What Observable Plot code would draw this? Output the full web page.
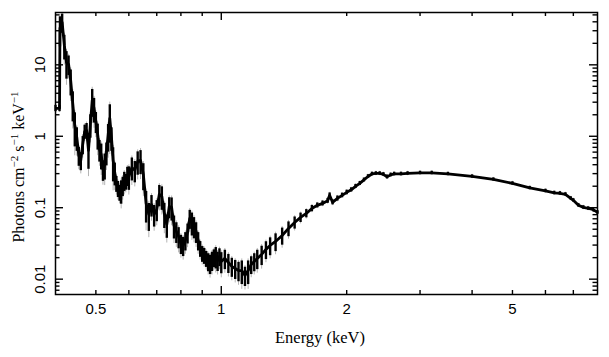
<!DOCTYPE html>
<html><head><meta charset="utf-8">
<script src="https://cdn.jsdelivr.net/npm/d3@7"></script>
<script src="https://cdn.jsdelivr.net/npm/@observablehq/plot@0.6"></script>
<style>body{margin:0;background:#fff} svg{display:block}</style>
</head><body><div id="chart"></div>
<script>
// Energy bins (keV)
const energy = [
  0.400,0.409,0.410,0.415,0.420,0.425,0.430,0.435,0.440,0.445,
  0.450,0.455,0.460,0.465,0.470,0.475,0.480,0.485,0.490,0.495,
  0.500,0.505,0.510,0.515,0.520,0.525,0.530,0.535,0.540,0.545,
  0.550,0.555,0.560,0.565,0.570,0.575,0.580,0.585,0.590,0.595,
  0.600,0.61,0.62,0.63,0.64,0.65,0.66,0.67,0.68,0.69,
  0.70,0.71,0.72,0.73,0.74,0.75,0.76,0.77,0.78,0.79,
  0.80,0.81,0.82,0.83,0.84,0.85,0.86,0.87,0.88,0.89,
  0.90,0.91,0.92,0.93,0.94,0.95,0.96,0.97,0.98,0.99,
  1.00,1.02,1.04,1.06,1.08,1.10,1.12,1.14,1.16,1.18,
  1.20,1.22,1.25,1.28,1.31,1.35,1.40,1.45,1.50,1.55,
  1.60,1.65,1.70,1.75,1.80,1.82,1.85,1.90,1.95,2.00,
  2.05,2.10,2.15,2.20,2.25,2.30,2.35,2.40,2.45,2.50,
  2.55,2.60,2.70,2.80,3.00,3.20,3.50,4.00,4.50,5.00,
  5.50,6.00,6.30,6.50,6.70,6.90,7.00,7.20,7.40,7.60,
  7.80,8.00
];
// Photons cm^-2 s^-1 keV^-1
const flux = [
  2.46,2.46,32.4,39.4,18.8,10.8,10.2,6.07,2.89,1.42,
  0.965,0.540,0.460,0.770,1.17,1.21,0.635,1.47,3.18,2.46,
  1.62,1.06,0.655,0.558,0.344,0.404,0.595,1.03,1.78,0.965,
  0.460,0.312,0.219,0.186,0.164,0.175,0.205,0.241,0.234,0.283,
  0.274,0.367,0.333,0.445,0.460,0.293,0.115,0.0806,0.111,0.0806,
  0.0947,0.154,0.144,0.0832,0.0583,0.104,0.101,0.0565,0.0466,0.0396,
  0.0316,0.0296,0.0348,0.0451,0.0708,0.0622,0.0547,0.0466,0.0348,0.0269,
  0.0229,0.0215,0.0195,0.0177,0.0166,0.0183,0.0201,0.0208,0.0183,0.0208,
  0.0177,0.0195,0.0171,0.0151,0.0141,0.0132,0.0132,0.0113,0.0132,0.0161,
  0.0177,0.0195,0.0222,0.0261,0.0296,0.0337,0.0409,0.0513,0.0622,0.0731,
  0.0832,0.0977,0.108,0.115,0.125,0.149,0.119,0.135,0.149,0.164,
  0.178,0.199,0.219,0.245,0.274,0.297,0.302,0.302,0.293,0.270,
  0.288,0.297,0.297,0.302,0.307,0.307,0.297,0.274,0.249,0.219,
  0.189,0.172,0.161,0.159,0.154,0.135,0.127,0.108,0.101,0.0977,
  0.0947,0.0859
];
// 1-sigma errors
const fluxErr = [
  0.25,0.25,14.6,11.8,7.1,4.5,3.1,2.4,1.3,0.71,
  0.35,0.16,0.13,0.22,0.26,0.30,0.29,0.53,1.34,0.93,
  0.53,0.42,0.22,0.22,0.11,0.16,0.21,0.43,0.98,0.35,
  0.23,0.11,0.055,0.047,0.041,0.063,0.062,0.072,0.058,0.085,
  0.099,0.13,0.11,0.16,0.17,0.12,0.054,0.034,0.037,0.027,
  0.031,0.051,0.052,0.032,0.021,0.034,0.036,0.020,0.015,0.013,
  0.0095,0.0089,0.010,0.014,0.021,0.022,0.018,0.015,0.010,0.0067,
  0.0057,0.0054,0.0049,0.0050,0.0050,0.0055,0.0056,0.0069,0.0055,0.0058,
  0.0058,0.0059,0.0051,0.0045,0.0042,0.0040,0.0048,0.0034,0.0048,0.0045,
  0.0050,0.0059,0.0067,0.0073,0.0083,0.0094,0.011,0.012,0.012,0.011,
  0.011,0.010,0.0086,0.0092,0.010,0.012,0.0095,0.011,0.011,0.012,
  0.012,0.013,0.014,0.015,0.016,0.017,0.017,0.017,0.017,0.017,
  0.017,0.017,0.017,0.017,0.017,0.017,0.016,0.015,0.013,0.012,
  0.010,0.0095,0.009,0.009,0.0085,0.0075,0.007,0.006,0.0056,0.0054,
  0.0052,0.0048
];

const xTickLabels = [0.5, 1, 2, 5];
const xMajorTicks = [1];
const xMinorTicks = [0.5, 0.6, 0.7, 0.8, 0.9, 2, 3, 4, 5, 6, 7];
const yTickLabels = [0.01, 0.1, 1, 10];
const yMajorTicks = [0.01, 0.1, 1, 10];
const yMinorTicks = [0.007, 0.008, 0.009,
  0.02, 0.03, 0.04, 0.05, 0.06, 0.07, 0.08, 0.09,
  0.2, 0.3, 0.4, 0.5, 0.6, 0.7, 0.8, 0.9,
  2, 3, 4, 5, 6, 7, 8, 9, 20, 30, 40, 50];
const xTitle = "Energy (keV)";
const yTitleParts = [["Photons cm", false], ["\u22122", true], [" s", false], ["\u22121", true], [" keV", false], ["\u22121", true]];

const data = energy.map((e, i) => ({energy: e, flux: flux[i], err: fluxErr[i]}));

const W = 609, H = 357, mL = 55, mR = 12, mT = 12, mB = 63;
const fw = W - mL - mR, fh = H - mT - mB;
const minX = 4, majX = 8, minY = 4.5, majY = 8;
const tk = {stroke: "#000", strokeWidth: 1.4};

const plot = Plot.plot({
  width: W,
  height: H,
  marginLeft: mL,
  marginRight: mR,
  marginTop: mT,
  marginBottom: mB,
  style: {fontFamily: "'Liberation Sans', Arial, Helvetica, sans-serif", fontSize: "15px", color: "#000", background: "#fff"},
  x: {type: "log", domain: [0.4, 8], axis: null},
  y: {type: "log", domain: [0.0061, 54], axis: null},
  marks: [
    Plot.ruleX(data, {x: "energy", y1: d => d.flux - 1.25 * d.err, y2: d => d.flux + 1.25 * d.err, stroke: "#b5b5b5", strokeWidth: 1}),
    Plot.ruleX(data, {x: "energy", y1: d => d.flux - d.err, y2: d => d.flux + d.err, stroke: "#000", strokeWidth: 2.4}),
    Plot.line(data, {x: "energy", y: "flux", stroke: "#000", strokeWidth: 2.8, clip: true}),
    Plot.frame({stroke: "#000", strokeWidth: 1.5}),
    // inward ticks on all four sides
    Plot.tickX(xMinorTicks, {x: d => d, insetTop: fh - minX, ...tk}),
    Plot.tickX(xMajorTicks, {x: d => d, insetTop: fh - majX, ...tk}),
    Plot.tickX(xMinorTicks, {x: d => d, insetBottom: fh - minX, ...tk}),
    Plot.tickX(xMajorTicks, {x: d => d, insetBottom: fh - majX, ...tk}),
    Plot.tickY(yMinorTicks, {y: d => d, insetRight: fw - minY, ...tk}),
    Plot.tickY(yMajorTicks, {y: d => d, insetRight: fw - majY, ...tk}),
    Plot.tickY(yMinorTicks, {y: d => d, insetLeft: fw - minY, ...tk}),
    Plot.tickY(yMajorTicks, {y: d => d, insetLeft: fw - majY, ...tk}),
    Plot.text(xTickLabels, {x: d => d, frameAnchor: "bottom", dy: 9, lineAnchor: "top", text: d => String(d), fill: "#000", fontSize: 15}),
    Plot.text(yTickLabels, {y: d => d, frameAnchor: "left", dx: -15, rotate: -90, textAnchor: "middle", lineAnchor: "middle", text: d => String(d), fill: "#000", fontSize: 15})
  ]
});

document.getElementById("chart").appendChild(plot);

const svg = d3.select(plot);
svg.append("text")
  .attr("x", 320).attr("y", 343)
  .attr("text-anchor", "middle")
  .attr("font-family", "'Liberation Serif', 'Times New Roman', serif")
  .attr("font-size", 16.5)
  .attr("fill", "#000")
  .text(xTitle);

const yt = svg.append("text")
  .attr("transform", "translate(24,167) rotate(-90)")
  .attr("text-anchor", "middle")
  .attr("font-family", "'Liberation Serif', 'Times New Roman', serif")
  .attr("font-size", 16)
  .attr("fill", "#000");
let raised = false;
for (const [s, sup] of yTitleParts) {
  const ts = yt.append("tspan").text(s);
  if (sup && !raised) { ts.attr("dy", -6).attr("font-size", 11); raised = true; }
  else if (sup) { ts.attr("font-size", 11); }
  else if (raised) { ts.attr("dy", 6); raised = false; }
}
</script>
</body></html>
